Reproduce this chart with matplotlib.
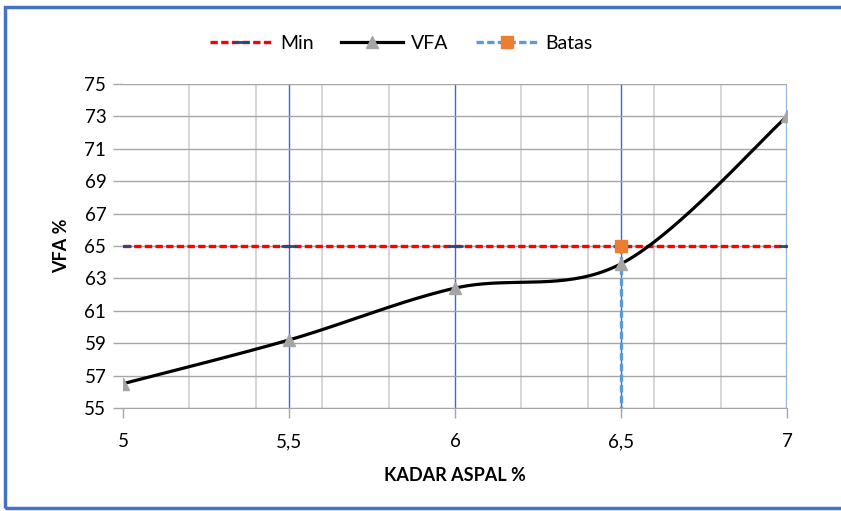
import numpy as np
import matplotlib.pyplot as plt
from matplotlib.patches import Rectangle
from matplotlib.ticker import MultipleLocator, FuncFormatter

plt.rcParams['font.family'] = ['Lato', 'DejaVu Sans']

# asphalt content vs VFA
kadar_aspal = [5.0, 5.5, 6.0, 6.5, 7.0]
vfa = [56.5, 59.2, 62.4, 63.9, 73.0]

# minimum VFA requirement
min_x = [5.0, 5.5, 6.0, 6.5, 7.0]
min_y = [65, 65, 65, 65, 65]

# optimum asphalt content marker
batas_x = [6.5, 6.5]
batas_y = [65, 55]

y_ticks = list(range(55, 76, 2))


def smooth(x, y, n=40):
    # excel-like smoothed line (catmull-rom bezier)
    x = np.asarray(x, float)
    y = np.asarray(y, float)
    px = np.concatenate([[x[0]], x, [x[-1]]])
    py = np.concatenate([[y[0]], y, [y[-1]]])
    xs, ys = [], []
    t = np.linspace(0, 1, n)
    for i in range(1, len(px) - 2):
        p0 = np.array([px[i], py[i]])
        p3 = np.array([px[i + 1], py[i + 1]])
        b1 = p0 + (np.array([px[i + 1], py[i + 1]]) - np.array([px[i - 1], py[i - 1]])) / 6
        b2 = p3 - (np.array([px[i + 2], py[i + 2]]) - p0) / 6
        c = ((1 - t) ** 3)[:, None] * p0 + (3 * (1 - t) ** 2 * t)[:, None] * b1 \
            + (3 * (1 - t) * t ** 2)[:, None] * b2 + (t ** 3)[:, None] * p3
        xs.extend(c[:, 0])
        ys.extend(c[:, 1])
    return xs, ys


fig = plt.figure(figsize=(8.41, 5.11), dpi=100)
ax = fig.add_axes([0.1463, 0.2016, 0.7895, 0.634])

ax.set_xlim(5, 7)
ax.set_ylim(55, 75)
ax.xaxis.set_major_locator(MultipleLocator(0.5))
ax.xaxis.set_minor_locator(MultipleLocator(0.2))
ax.set_yticks(y_ticks)
ax.xaxis.set_major_formatter(FuncFormatter(lambda v, p: ('%g' % v).replace('.', ',')))

ax.grid(which='minor', axis='x', color='#d0d0d0', lw=1.2, zorder=0)
ax.grid(which='major', axis='y', color='#a6a6a6', lw=1.0, zorder=0)
ax.tick_params(which='minor', length=0)
ax.tick_params(which='major', length=7, color='#a6a6a6', width=1,
               labelsize=13.5, colors='#000000', pad=5)
ax.tick_params(axis='x', pad=11)
for s in ['top', 'right', 'left']:
    ax.spines[s].set_visible(False)
ax.spines['bottom'].set_color('#a6a6a6')

# vertical guide lines
ax.vlines([5.5, 6.0, 6.5], 55, 75, color='#2E6BE6', lw=1.0, zorder=1)
ax.vlines([7.0], 55, 75, color='#8EB4E3', lw=1.6, zorder=1)

ax.plot(min_x, min_y, color='#FF0000', lw=2.4, dashes=(2.2, 1.0),
        marker='_', ms=12, mew=2, mec='#1F4E79', label='Min', zorder=3)

sx, sy = smooth(kadar_aspal, vfa)
ax.plot(sx, sy, color='black', lw=2.3, zorder=4)
ax.plot(kadar_aspal, vfa, ls='none', marker='^', ms=8, color='#A5A5A5', zorder=5)
vfa_leg, = ax.plot([], [], color='black', lw=2.3, marker='^', ms=8,
                   mfc='#A5A5A5', mec='#A5A5A5', label='VFA')

ax.plot(batas_x, batas_y, color='#5B9BD5', lw=2.4, dashes=(2.2, 1.0), zorder=4)
ax.plot(batas_x[:1], batas_y[:1], ls='none', marker='s', ms=8, color='#ED7D31', zorder=6)
batas_leg, = ax.plot([], [], color='#5B9BD5', lw=2.4, dashes=(2.2, 1.0),
                     marker='s', ms=8, mfc='#ED7D31', mec='#ED7D31', label='Batas')

ax.set_xlabel('KADAR ASPAL %', fontsize=13, fontweight='bold', labelpad=12)
ax.set_ylabel('VFA %', fontsize=13, fontweight='bold', labelpad=10)

h, l = ax.get_legend_handles_labels()
fig.legend(h, l, loc='center', bbox_to_anchor=(0.5 - 19 / 841, 1 - 43 / 511), ncol=3,
           frameon=False, fontsize=14, handlelength=3.2, columnspacing=1.4,
           handletextpad=0.4)

# chart frame
fig.patches.append(Rectangle((4.5 / 841, 3 / 511), 1.0, 1 - 10 / 511,
                             transform=fig.transFigure, fill=False,
                             edgecolor='#4472C4', lw=2.5))

fig.savefig('out.png', dpi=100)
